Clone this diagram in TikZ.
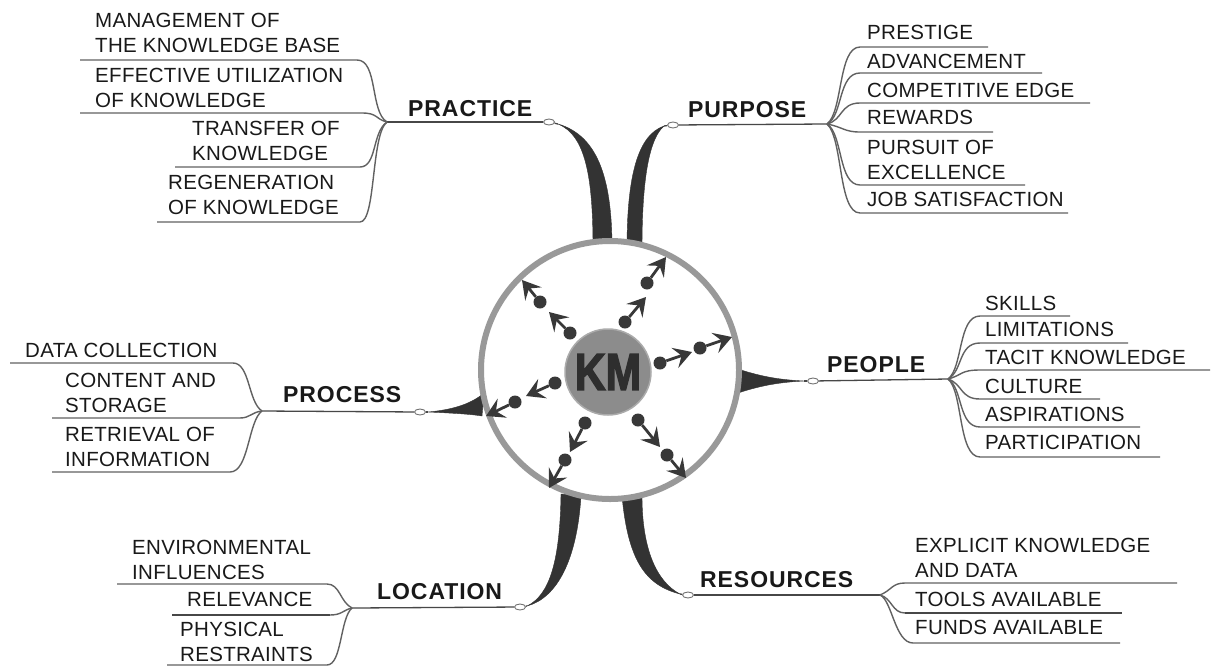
\documentclass[tikz,border=0pt]{standalone}
\usepackage{fontspec}
\setmainfont{Liberation Sans}[LetterSpace=1.5]
\newfontfamily\kmfont{Liberation Sans Bold}[FakeBold=3]
\usetikzlibrary{shapes.geometric,arrows.meta}
\begin{document}
\begin{tikzpicture}[x=1pt,y=-1pt,
  item/.style={anchor=south west,inner sep=0pt,align=left,font=\fontsize{20.5}{25.5}\selectfont,text=black!90},
  head/.style={anchor=south west,inner sep=0pt,font=\fontsize{23}{27}\selectfont\bfseries\addfontfeature{LetterSpace=4},text=black!90},
  uline/.style={draw=black!62,line width=1.4pt},
  thickuline/.style={draw=black!72,line width=2.6pt},
  mainline/.style={draw=black!72,line width=1.3pt},
  taper/.style={fill=black!80,draw=black!80,line width=0.4pt},
  knob/.style={ellipse,draw=black!55,fill=white,minimum width=11pt,minimum height=6pt,inner sep=0pt,line width=0.9pt},
  dot/.style={circle,fill=black!78,minimum size=13pt,inner sep=0pt},
  kmarrow/.style={draw=black!78,line width=2.8pt,-{Stealth[length=18pt,width=21pt,inset=7pt]}}
]
\useasboundingbox[fill=white] (0,0) rectangle (1212,667);

% ---------- branch points ----------
\coordinate (prBr) at (387,122);
\coordinate (puBr) at (827,124);
\coordinate (peBr) at (948,379);
\coordinate (psBr) at (262,411);
\coordinate (loBr) at (352,608);
\coordinate (reBr) at (880,595);

% ---------- tapered stems ----------
\coordinate (prT) at (558,124);
\coordinate (puT) at (664,126);
\coordinate (peT) at (804,381);
\coordinate (psT) at (428,412);
\coordinate (loT) at (527,606);
\coordinate (reT) at (680,594);

\fill[taper] (593,248) .. controls (593,175) and (585,135) .. (prT) .. controls (596,135) and (612,175) .. (612,248) -- cycle;
\fill[taper] (627,248) .. controls (627,175) and (638,135) .. (puT) .. controls (650,138) and (642,175) .. (642,248) -- cycle;
\fill[taper] (738,369) .. controls (765,378) and (785,380) .. (peT) .. controls (785,382) and (765,384) .. (738,393) -- cycle;
\fill[taper] (484,393) .. controls (470,405) and (450,410) .. (psT) .. controls (450,413) and (470,414) .. (482,416) -- cycle;
\fill[taper] (561,494) .. controls (560,560) and (550,595) .. (loT) .. controls (557,598) and (577,560) .. (581,496) -- cycle;
\fill[taper] (622,496) .. controls (628,560) and (645,585) .. (reT) .. controls (657,582) and (642,550) .. (642,496) -- cycle;

% ---------- main lines & knobs ----------
\node[knob] (prK) at (549,122) {};
\node[knob] (puK) at (673,125) {};
\node[knob] (peK) at (813,381) {};
\node[knob] (psK) at (420,412) {};
\node[knob] (loK) at (520,607) {};
\node[knob] (reK) at (688,595) {};
\draw[mainline] (prT) -- (prK);
\draw[mainline] (puT) -- (puK);
\draw[mainline] (peT) -- (peK);
\draw[mainline] (psT) -- (psK);
\draw[mainline] (loT) -- (loK);
\draw[mainline] (reT) -- (reK);
\draw[mainline] (prK) -- (prBr);
\draw[mainline] (puK) -- (puBr);
\draw[mainline] (peK) -- (peBr);
\draw[mainline] (psK) -- (psBr);
\draw[mainline] (loK) -- (loBr);
\draw[mainline] (reK) -- (reBr);

% ---------- central circle ----------
\node[circle,draw=black!40,fill=white,line width=6pt,minimum size=258pt,inner sep=0pt] (ring) at (610,370) {};
\node[circle,fill=black!45,draw=black!33,line width=1.5pt,minimum size=86pt,inner sep=0pt] (km) at (608,372) {};
\node[font=\fontsize{52}{52}\kmfont,text=black!82,inner sep=0pt] (kmtext) at (km) {\scalebox{0.82}[1]{KM}};

% ---------- arrows inside circle ----------
\foreach \n/\tx/\ty/\hx/\hy in {1/540/302/522/280, 2/570/333/549/312, 3/625/322/646/297, 4/647/283/666/257,
  5/660/363/692/352, 6/700/348/732/337, 7/555/383/526/396, 8/515/402/486/416,
  9/585/423/570/452, 10/565/460/549/488, 11/638/420/660/447, 12/667/455/686/478}{
  \node[dot] (d\n) at (\tx,\ty) {};
  \coordinate (h\n) at (\hx,\hy);
  \draw[kmarrow] (d\n) -- (h\n);
}

% ---------- headings ----------
\node[head] (practice) at (408,117) {PRACTICE};
\node[head] (purpose) at (688,118) {PURPOSE};
\node[head] (people) at (827,373) {PEOPLE};
\node[head] (process) at (283,403) {PROCESS};
\node[head] (location) at (377,600) {LOCATION};
\node[head] (resources) at (700,588) {RESOURCES};

% ---------- PRACTICE ----------
\node[item] (pr1) at (95,53) {MANAGEMENT OF\\THE KNOWLEDGE BASE};
\node[item] (pr2) at (95,108) {EFFECTIVE UTILIZATION\\OF KNOWLEDGE};
\node[item] (pr3) at (192,161) {TRANSFER OF\\KNOWLEDGE};
\node[item] (pr4) at (168,215) {REGENERATION\\OF KNOWLEDGE};
\draw[uline] (80,60) -- (357,60) .. controls (378,60) and (370,112) .. (prBr);
\draw[uline] (80,113) -- (362,113) .. controls (378,113) and (375,119) .. (prBr);
\draw[uline] (175,167) -- (360,167) .. controls (377,167) and (372,132) .. (prBr);
\draw[uline] (157,222) -- (360,222) .. controls (376,222) and (371,134) .. (prBr);

% ---------- PURPOSE ----------
\node[item] (pu1) at (867,40) {PRESTIGE};
\node[item] (pu2) at (867,69) {ADVANCEMENT};
\node[item] (pu3) at (867,98) {COMPETITIVE EDGE};
\node[item] (pu4) at (867,125) {REWARDS};
\node[item] (pu5) at (867,180) {PURSUIT OF\\EXCELLENCE};
\node[item] (pu6) at (867,207) {JOB SATISFACTION};
\draw[uline] (puBr) .. controls (843,112) and (838,47) .. (860,47) -- (988,47);
\draw[uline] (puBr) .. controls (843,116) and (838,73) .. (860,73) -- (1042,73);
\draw[uline] (puBr) .. controls (843,120) and (840,103) .. (860,103) -- (1090,103);
\draw[uline] (puBr) .. controls (843,127) and (844,132) .. (860,132) -- (993,132);
\draw[uline] (puBr) .. controls (843,134) and (838,185) .. (860,185) -- (1025,185);
\draw[uline] (puBr) .. controls (843,138) and (838,213) .. (860,213) -- (1068,213);

% ---------- PEOPLE ----------
\node[item] (pe1) at (985,311) {SKILLS};
\node[item] (pe2) at (985,337) {LIMITATIONS};
\node[item] (pe3) at (985,365) {TACIT KNOWLEDGE};
\node[item] (pe4) at (985,394) {CULTURE};
\node[item] (pe5) at (985,422) {ASPIRATIONS};
\node[item] (pe6) at (985,450) {PARTICIPATION};
\draw[uline] (peBr) .. controls (963,368) and (958,316) .. (980,316) -- (1070,316);
\draw[uline] (peBr) .. controls (963,371) and (958,343) .. (980,343) -- (1128,343);
\draw[uline] (peBr) .. controls (963,375) and (960,370) .. (980,370) -- (1210,370);
\draw[uline] (peBr) .. controls (963,384) and (960,399) .. (980,399) -- (1100,399);
\draw[uline] (peBr) .. controls (963,388) and (958,427) .. (980,427) -- (1140,427);
\draw[uline] (peBr) .. controls (963,391) and (958,457) .. (980,457) -- (1160,457);

% ---------- PROCESS ----------
\node[item] (ps1) at (25,358) {DATA COLLECTION};
\node[item] (ps2) at (65,413) {CONTENT AND\\STORAGE};
\node[item] (ps3) at (65,467) {RETRIEVAL OF\\INFORMATION};
\draw[uline] (10,363) -- (233,363) .. controls (250,363) and (248,402) .. (psBr);
\draw[uline] (52,418) -- (240,418) .. controls (250,418) and (252,412) .. (psBr);
\draw[uline] (52,472) -- (230,472) .. controls (249,472) and (248,421) .. (psBr);

% ---------- LOCATION ----------
\node[item] (lo1) at (132,580) {ENVIRONMENTAL\\INFLUENCES};
\node[item] (lo2) at (187,607) {RELEVANCE};
\node[item] (lo3) at (180,662) {PHYSICAL\\RESTRAINTS};
\draw[uline] (117,584) -- (327,584) .. controls (340,584) and (340,602) .. (loBr);
\draw[thickuline] (172,615) -- (330,615);
\draw[uline] (330,615) .. controls (342,615) and (343,610) .. (loBr);
\draw[uline] (167,665) -- (327,665) .. controls (342,665) and (340,618) .. (loBr);

% ---------- RESOURCES ----------
\node[item] (re1) at (915,578) {EXPLICIT KNOWLEDGE\\AND DATA};
\node[item] (re2) at (915,607) {TOOLS AVAILABLE};
\node[item] (re3) at (915,635) {FUNDS AVAILABLE};
\draw[uline] (reBr) .. controls (892,590) and (892,583) .. (905,583) -- (1177,583);
\draw[uline] (reBr) .. controls (892,598) and (892,613) .. (905,613);
\draw[thickuline] (905,613) -- (1122,613);
\draw[uline] (reBr) .. controls (892,600) and (895,643) .. (913,643) -- (1120,643);
\end{tikzpicture}
\end{document}
